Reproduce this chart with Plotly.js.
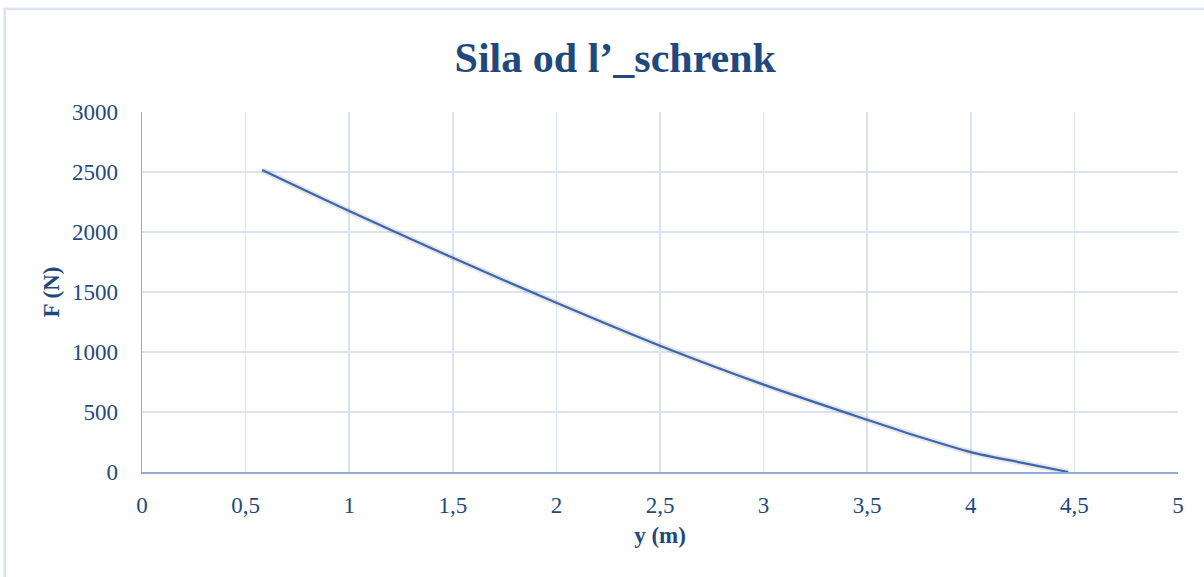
<!DOCTYPE html>
<html>
<head>
<meta charset="utf-8">
<script src="https://cdn.plot.ly/plotly-3.0.1.min.js"></script>
<style>html,body{margin:0;padding:0;background:#fff;}#chart{width:1204px;height:577px;}</style>
</head>
<body>
<div id="chart"></div>
<script>
// Data
const yPos = [0.58, 1.0, 1.5, 2.0, 2.5, 3.0, 3.5, 3.75, 4.0, 4.25, 4.47];
const force = [2517, 2175, 1785, 1410, 1052, 728, 435, 294, 166, 76, 0];
const xTickVals = [0, 0.5, 1, 1.5, 2, 2.5, 3, 3.5, 4, 4.5, 5];
const xTickText = ["0", "0,5", "1", "1,5", "2", "2,5", "3", "3,5", "4", "4,5", "5"];
const yTickVals = [0, 500, 1000, 1500, 2000, 2500, 3000];

const textColor = "#1F497D";
const serif = "Liberation Serif, Times New Roman, serif";

const traces = [
  { // soft shadow drawn on an offset copy of the axes
    x: yPos, y: force, type: "scatter", mode: "lines", xaxis: "x2", yaxis: "y2",
    line: {color: "rgba(0,0,0,0.10)", width: 6, shape: "spline", smoothing: 0.8},
    hoverinfo: "skip", showlegend: false
  },
  {
    x: yPos, y: force, type: "scatter", mode: "lines",
    line: {color: "#4472C4", width: 2.2, shape: "spline", smoothing: 0.8},
    hoverinfo: "skip", showlegend: false
  }
];

const layout = {
  width: 1204, height: 577,
  margin: {l: 142, r: 26, t: 112, b: 105},
  paper_bgcolor: "#ffffff", plot_bgcolor: "#ffffff",
  title: {text: "<b>Sila od l’_schrenk</b>", x: 0.511, xanchor: "center", y: 0.9, yanchor: "middle",
    font: {family: serif, size: 42, color: textColor}},
  xaxis: {
    range: [0, 5], tickvals: xTickVals, ticktext: xTickText,
    showgrid: true, gridcolor: "#DAE3F3", gridwidth: 1.5,
    zeroline: false, showline: true, linecolor: "#8EAADB", linewidth: 1.5,
    ticks: "", ticklen: 0, ticklabelstandoff: 12,
    tickfont: {family: serif, size: 23, color: textColor},
    title: {text: "<b>y (m)</b>", font: {family: serif, size: 23, color: textColor}, standoff: 10}
  },
  yaxis: {
    range: [0, 3000], tickvals: yTickVals,
    showgrid: true, gridcolor: "#DAE3F3", gridwidth: 1.5,
    zeroline: false, showline: true, linecolor: "#8EAADB", linewidth: 1.5,
    ticks: "", ticklen: 0, ticklabelstandoff: 18,
    tickfont: {family: serif, size: 23, color: textColor},
    title: {text: "<b>F (N)</b>", font: {family: serif, size: 23, color: textColor}, standoff: 6}
  },
  xaxis2: {range: [0, 5], domain: [0.003, 1.003], overlaying: "x", anchor: "y2", visible: false, fixedrange: true},
  yaxis2: {range: [0, 3000], domain: [-0.014, 0.986], overlaying: "y", anchor: "x2", visible: false, fixedrange: true},
  shapes: [{
    type: "rect", xref: "paper", yref: "paper",
    x0: -0.1325, x1: 1.05, y0: -0.35, y1: 1.286,
    line: {color: "#DAE3F3", width: 2.5}, fillcolor: "rgba(0,0,0,0)", layer: "below"
  }]
};

Plotly.newPlot("chart", traces, layout, {displayModeBar: false, staticPlot: true});
</script>
</body>
</html>
